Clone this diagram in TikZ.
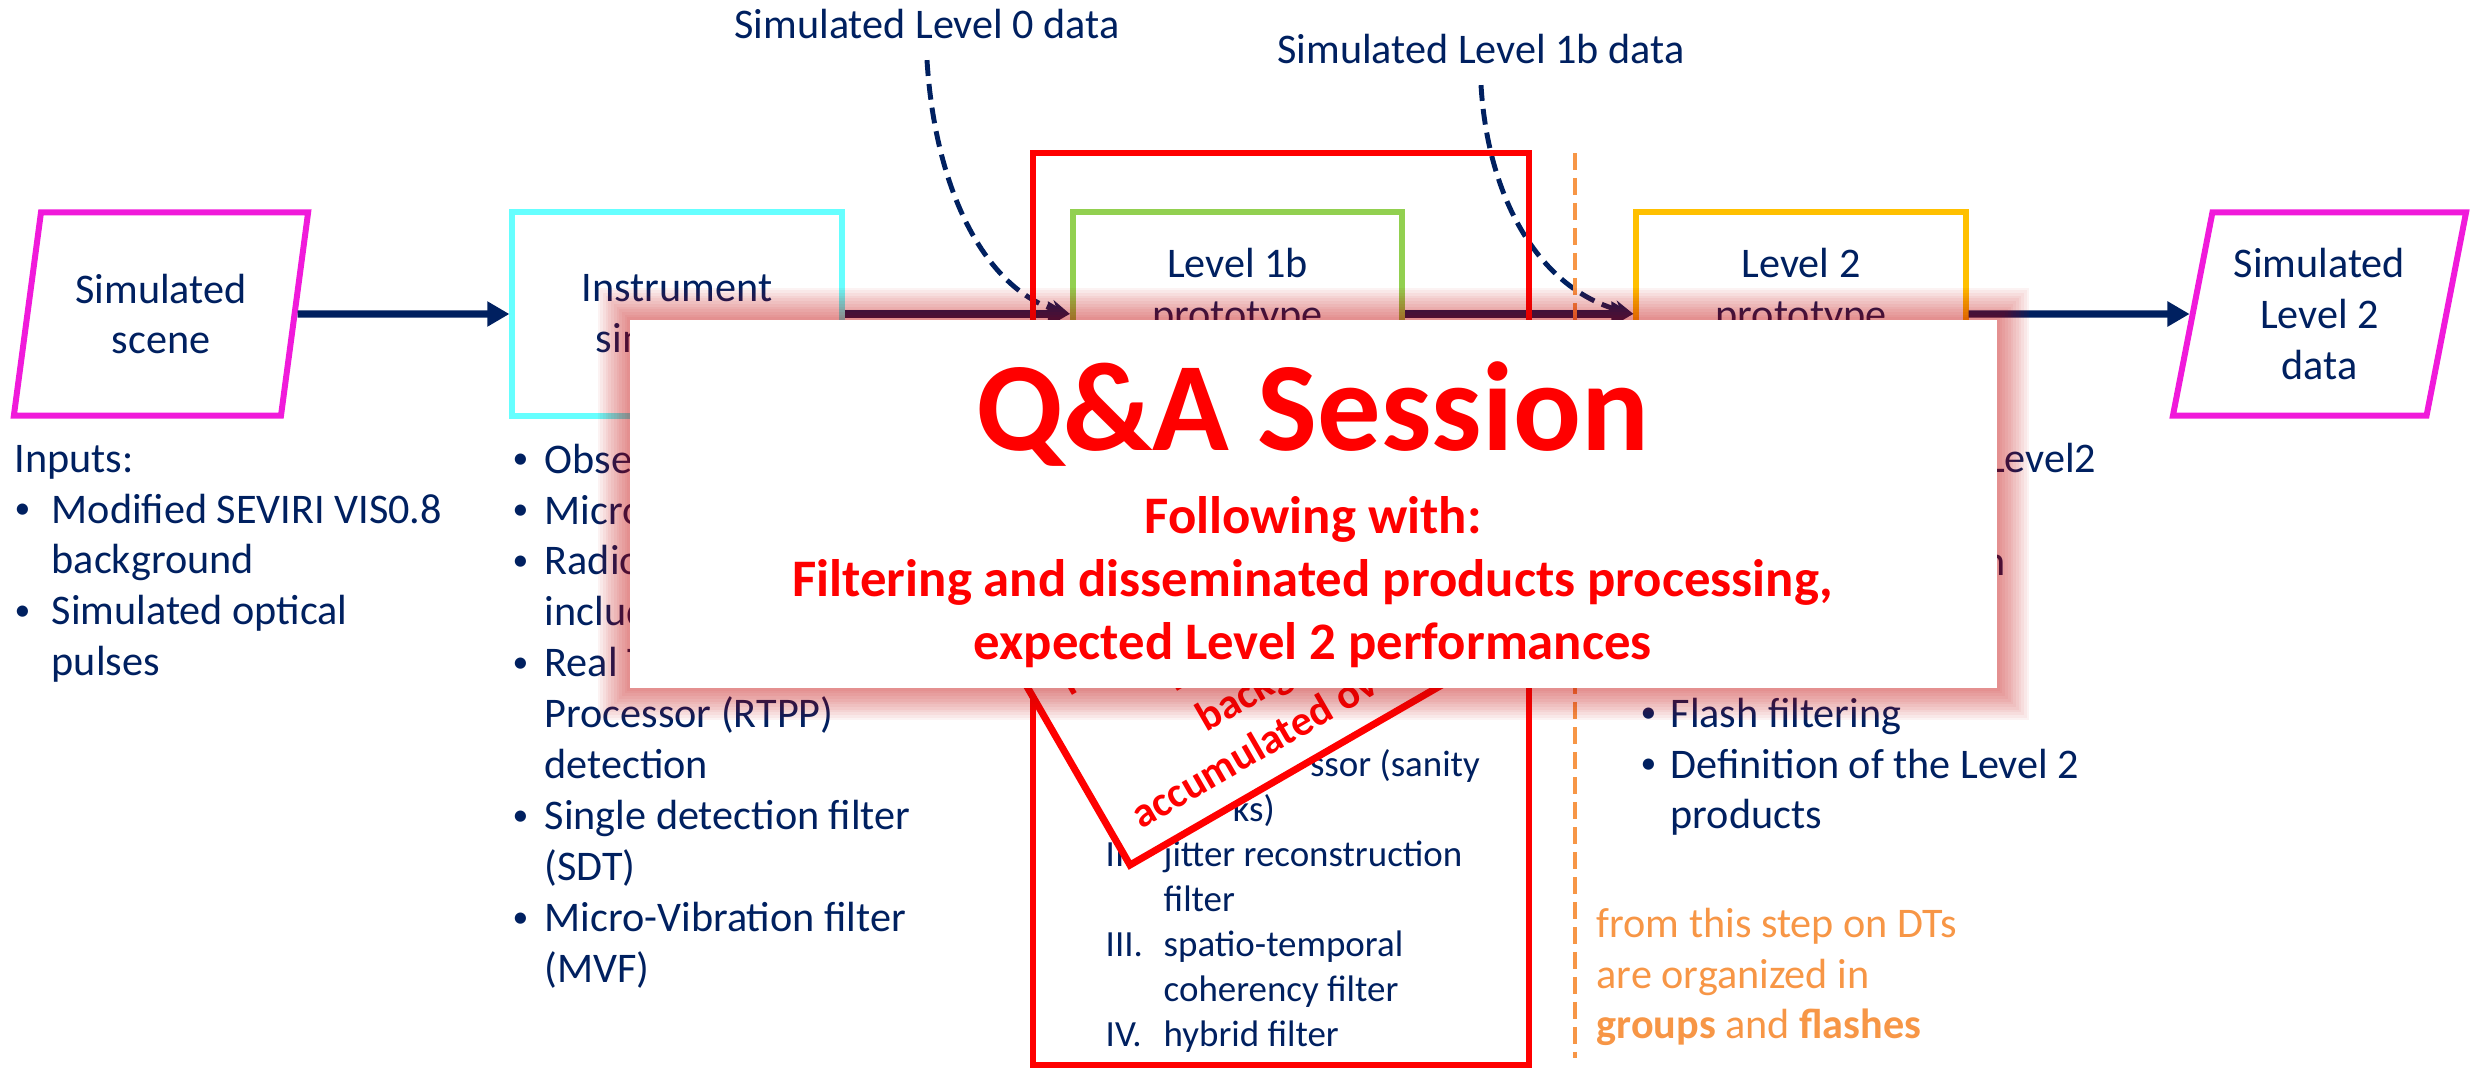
\documentclass[tikz,border=0pt]{standalone}
\usepackage{fontspec}
\setmainfont{Carlito}
\usetikzlibrary{arrows.meta,shapes.geometric}

\definecolor{navy}{RGB}{0,32,96}
\definecolor{parmag}{RGB}{240,26,218}
\definecolor{simcyan}{RGB}{102,255,255}
\definecolor{protogreen}{RGB}{146,208,80}
\definecolor{protogold}{RGB}{255,192,0}
\definecolor{steporange}{RGB}{247,150,70}
\definecolor{glowred}{RGB}{192,0,0}

\newcommand{\mainfs}{\fontsize{12pt}{14.5pt}\selectfont}
\newcommand{\listfs}{\fontsize{10.5pt}{12.8pt}\selectfont}
\newcommand{\qafs}{\fontsize{36pt}{43pt}\selectfont\bfseries}
\newcommand{\subfs}{\fontsize{15pt}{18pt}\selectfont\bfseries}
\newcommand{\blt}{\raisebox{0.1em}{\fontsize{9pt}{9pt}\selectfont\textbullet}}

\begin{document}
\begin{tikzpicture}[x=0.01cm, y=-0.01cm]

% one unit is one pixel of the slide, y runs downwards
\useasboundingbox (0,0) rectangle (2471,1069);

\tikzstyle{datapar}=[trapezium, trapezium left angle=76.5, trapezium right angle=103.5,
  trapezium stretches=true, draw=parmag, line width=1.7pt, minimum width=2.95cm,
  minimum height=2.03cm, inner sep=0pt, align=center, text=navy, font=\mainfs]
\tikzstyle{proto}=[draw, line width=1.7pt, minimum width=3.29cm, minimum height=2.03cm,
  align=center, text=navy, font=\mainfs]
\tikzstyle{txt}=[inner sep=0pt, text=navy, font=\mainfs]
\tikzstyle{flow}=[draw=navy, line width=2pt, -{Triangle[length=6.3pt,width=6.8pt]}]
\tikzstyle{feed}=[draw=navy, line width=1.4pt, dash pattern=on 4.5pt off 2.3pt,
  -{Stealth[length=5.5pt,width=5pt]}]

% Processing chain
\node[datapar] (scene) at (161,314) {Simulated\\scene};
\node[proto, draw=simcyan] (instr) at (677,314) {Instrument\\simulator};
\node[proto, draw=protogreen] (lone) at (1237.5,314) {Level 1b\\prototype\\\mbox{}};
\node[proto, draw=protogold] (ltwo) at (1801,314) {Level 2\\prototype\\\mbox{}};
\node[datapar] (out) at (2319.5,314) {Simulated\\Level 2\\data};

\draw[flow] (scene) -- (instr);
\draw[flow] (instr) -- (lone);
\draw[flow] (lone) -- (ltwo);
\draw[flow] (ltwo) -- (out);

% Simulated data injected into the prototypes
\node[txt, anchor=base] (l0data) at (927,38) {Simulated Level 0 data};
\node[txt, anchor=base] (l1bdata) at (1481,63) {Simulated Level 1b data};

\draw[feed] ([yshift=-6pt]l0data.south) .. controls (935,190) and (985,290) .. (lone.west);
\draw[feed] ([yshift=-6pt]l1bdata.south) .. controls (1488,200) and (1540,290) .. (ltwo.west);

% Frame round the Level 1b step and the group/flash border
\draw[red, line width=1.7pt] (1033,153) rectangle (1529,1065);
\draw[steporange, line width=1.4pt, dash pattern=on 4.8pt off 2.3pt] (1575,153) -- (1575,1058);

% Text under the boxes
\node[txt, anchor=base west] (inputs) at (14,472) {\begin{tabular}[t]{@{}p{0.37cm}@{}l@{}}
  \multicolumn{2}{@{}l@{}}{Inputs:}\\
  \blt & Modified SEVIRI VIS0.8\\
  & background\\
  \blt & Simulated optical\\
  & pulses
\end{tabular}};

\node[txt, anchor=base west] (instlist) at (512,473) {\begin{tabular}[t]{@{}p{0.32cm}@{}l@{}}
  \blt & Obse\\
  \blt & Micro\\
  \blt & Radio\\
  & includ\\
  \blt & Real T\\
  & Processor (RTPP)\\
  & detection\\
  \blt & Single detection filter\\
  & (SDT)\\
  \blt & Micro-Vibration filter\\
  & (MVF)
\end{tabular}};

\node[txt, font=\listfs, anchor=base west] (lonelist) at (1105,776) {\begin{tabular}[t]{@{}p{0.58cm}@{}l@{}}
  \phantom{I.} & \phantom{Pre-proce}ssor (sanity\\
  & \phantom{chec}ks)\\
  II. & jitter reconstruction\\
  & filter\\
  III. & spatio-temporal\\
  & coherency filter\\
  IV. & hybrid filter
\end{tabular}};

\node[txt, anchor=base east] (ltwoa) at (2097,472) {Level2};
\node[txt, anchor=base east] (ltwob) at (2006,575) {n};
\node[txt, anchor=base west] (ltwolist) at (1640,727) {\begin{tabular}[t]{@{}p{0.30cm}@{}l@{}}
  \blt & Flash filtering\\
  \blt & Definition of the Level 2\\
  & products
\end{tabular}};

\node[txt, text=steporange, anchor=base west] (stepnote) at (1596,937) {\begin{tabular}[t]{@{}l@{}}
  from this step on DTs\\
  are organized in\\
  \textbf{groups} and \textbf{flashes}
\end{tabular}};

% Stamp lying over the Level 1b list
\begin{scope}[shift={(1130,865)}, rotate=30, transform shape]
  \draw[red, line width=2pt, fill=white] (0,0) rectangle (620,-240);
  \node[anchor=base west, inner sep=0pt, text=red, font=\mainfs\bfseries] (stampa) at (27,-25) {accumulated ov};
  \node[anchor=base west, inner sep=0pt, text=red, font=\mainfs\bfseries] (stampb) at (132,-76) {backg};
  \node[anchor=base west, inner sep=0pt, text=red, font=\mainfs\bfseries] (stampc) at (125,-127) {D};
  \node[anchor=base west, inner sep=0pt, text=red, font=\mainfs\bfseries] (stampd) at (32,-176) {F};
\end{scope}

% Q&A card with its glow
\def\qal{630}
\def\qar{1997}
\def\qat{320}
\def\qab{688}
\foreach \k in {1,...,12}
  \fill[glowred, opacity=0.048] (\qal-\k*2.7, \qab+\k*2.7) rectangle (\qar+\k*2.7, \qat-\k*2.7);
\node[fill=white, inner sep=0pt, minimum width=13.67cm, minimum height=3.68cm] (qa) at (1313.5,504) {};

\node[anchor=base, inner sep=0pt, text=red, font=\qafs] (qatitle) at (1313,450) {Q\&A Session};
\node[anchor=base, inner sep=0pt, text=red, font=\subfs] (qasub) at (1313,533) {\begin{tabular}[t]{@{}c@{}}
  Following with:\\
  Filtering and disseminated products processing,\\
  expected Level 2 performances
\end{tabular}};

\end{tikzpicture}
\end{document}
